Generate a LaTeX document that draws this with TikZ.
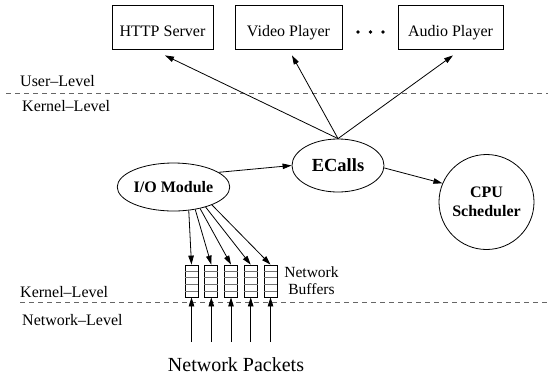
\documentclass[tikz,border=0pt]{standalone}
\usepackage{fontspec}
\setmainfont{Liberation Serif}
\usetikzlibrary{shapes.geometric,arrows.meta,calc}
\begin{document}
\begin{tikzpicture}[x=1pt,y=-1pt,
  every node/.style={font=\fontsize{16}{18}\selectfont},
  appbox/.style={draw,line width=0.8pt,rectangle,inner sep=0pt,minimum height=44pt,text height=18pt,text depth=0pt},
  oval/.style={draw,line width=0.8pt,ellipse,inner sep=0pt,font=\fontsize{16}{18}\selectfont\bfseries},
  buf/.style={draw,line width=0.8pt,rectangle,inner sep=0pt,minimum width=13pt,minimum height=32pt},
  arr/.style={line width=0.8pt,-{Triangle[length=9pt,width=5.5pt]}},
  sep/.style={draw=black!60,line width=0.8pt,dash pattern=on 5pt off 4pt},
  lvl/.style={anchor=base west,inner sep=0pt}]
\useasboundingbox (0,0) rectangle (548,376);

% application boxes
\node[appbox,minimum width=101pt] (http) at (162.5,27) {HTTP Server};
\node[appbox,minimum width=107pt] (video) at (288.5,27) {Video Player};
\node[appbox,minimum width=105pt] (audio) at (450.5,27) {Audio Player};
\foreach \x in {358,370.5,383} \fill (\x,32) circle (1.9pt);

% level separators
\coordinate (s1l) at (6,93);
\coordinate (s1r) at (548,93);
\coordinate (s2l) at (20,302);
\coordinate (s2r) at (548,302);
\draw[sep] (s1l) -- (s1r);
\draw[sep] (s2l) -- (s2r);
\node[lvl] (ul) at (20,86.5) {User–Level};
\node[lvl] (kl1) at (22,111) {Kernel–Level};
\node[lvl] (kl2) at (20,297.5) {Kernel–Level};
\node[lvl] (nl) at (22,325) {Network–Level};

% kernel components
\node[oval,minimum width=92pt,minimum height=53pt,font=\fontsize{18.5}{20}\selectfont\bfseries] (ec) at (338,165.5) {ECalls};
\node[oval,minimum width=93pt,minimum height=48pt] (io) at (173.5,187) {I/O Module};
\node[draw,line width=0.8pt,circle,minimum size=95pt,inner sep=0pt,align=center,
      font=\fontsize{16}{19}\selectfont\bfseries] (cpu) at (486.5,202) {CPU\\Scheduler};

\draw[arr] (ec.north) -- ([xshift=2.5pt,yshift=-6pt]http.south);
\draw[arr] (ec.north) -- ([xshift=3.5pt,yshift=-6pt]video.south);
\draw[arr] (ec.north) -- ([xshift=2.5pt,yshift=-6pt]audio.south);
\draw[arr] (io.18) -- (ec.west);
\draw[arr] (ec.-3) -- (cpu.157);

% buffers
\foreach \i/\x in {1/191.5,2/211.3,3/231,4/250.7,5/270.5}{
  \node[buf] (b\i) at (\x,281) {};
  \foreach \k in {0.2,0.4,0.6,0.8}
    \draw[black!55,line width=0.7pt] ($(b\i.north west)!\k!(b\i.south west)$) -- ($(b\i.north east)!\k!(b\i.south east)$);
  \coordinate (p\i) at (\x,342);
  \draw[arr] (p\i) -- (b\i.south);
}
\foreach \i/\a in {1/-57,2/-46,3/-39,4/-32,5/-25}
  \draw[arr] (io.\a) -- (b\i.north);

\node[align=center,inner sep=0pt,font=\fontsize{15.5}{17}\selectfont] (nb) at (311.5,281) {Network\\Buffers};
\node[anchor=base,inner sep=0pt,font=\fontsize{20}{22}\selectfont] (np) at (236,371) {Network Packets};
\end{tikzpicture}
\end{document}
